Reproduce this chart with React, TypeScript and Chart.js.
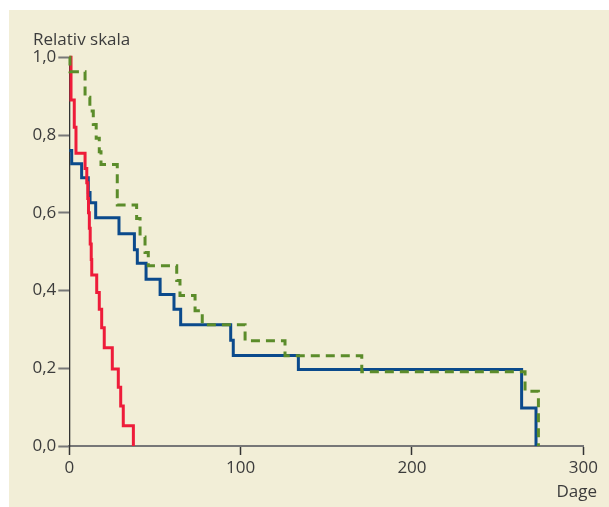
import React, { useEffect, useRef } from "react";
import { Chart, registerables } from "chart.js";

Chart.register(...registerables);

const yTitle = "Relativ skala";
const xTitle = "Dage";
const xTickValues = [0, 100, 200, 300];
const yTickValues = [0, 0.2, 0.4, 0.6, 0.8, 1.0];

const redDays = [0, 1, 2.9, 3.9, 9.2, 10.2, 10.8, 11.2, 11.7, 12.2, 12.8, 13.1, 16, 17.5, 18.9, 20.4, 25.1, 28.6, 30, 31.5, 37.4];
const redValues = [1.0, 0.89, 0.82, 0.753, 0.714, 0.677, 0.637, 0.6, 0.56, 0.52, 0.48, 0.44, 0.395, 0.352, 0.304, 0.253, 0.198, 0.151, 0.103, 0.052, 0];

const blueDays = [0, 1.4, 7.2, 11.1, 12.1, 15.4, 29, 38, 39.7, 44.8, 53, 61.1, 65, 94.2, 95.7, 133.7, 264, 272.4];
const blueValues = [0.76, 0.726, 0.69, 0.652, 0.626, 0.587, 0.546, 0.505, 0.47, 0.429, 0.39, 0.352, 0.312, 0.272, 0.233, 0.197, 0.098, 0];

const greenDays = [0, 0.4, 9.2, 12, 14, 15.7, 17.5, 18.5, 28, 39.3, 41.3, 44.2, 46.1, 62.7, 64.6, 73.4, 77.6, 102.6, 125.9, 170.7, 266, 273.8];
const greenValues = [1.0, 0.963, 0.897, 0.862, 0.827, 0.792, 0.757, 0.724, 0.62, 0.585, 0.538, 0.498, 0.464, 0.426, 0.387, 0.348, 0.312, 0.271, 0.232, 0.191, 0.141, 0];

const FONT = '"Open Sans", sans-serif';
const TEXT = "#3c3c3c";

function pts(xs: number[], ys: number[]) {
  return xs.map((x, i) => ({ x, y: ys[i] }));
}

const textPlugin = {
  id: "texts",
  afterDraw(chart: any) {
    const ctx = chart.ctx;
    ctx.save();
    ctx.fillStyle = TEXT;
    ctx.font = `17px ${FONT}`;
    ctx.textBaseline = "alphabetic";
    ctx.textAlign = "left";
    ctx.fillText(yTitle, 24, 35);
    ctx.textAlign = "right";
    ctx.fillText(xTitle, 588, 487);
    ctx.restore();
  },
};

export default function App() {
  const ref = useRef<HTMLCanvasElement | null>(null);
  useEffect(() => {
    if (!ref.current) return;
    const chart = new Chart(ref.current, {
      type: "line",
      data: {
        datasets: [
          {
            data: pts(greenDays, greenValues),
            borderColor: "#5b8c2a",
            borderWidth: 3,
            borderDash: [9, 6],
            stepped: "before",
            pointRadius: 0,
            fill: false,
            order: 0,
            clip: false,
          } as any,
          {
            data: pts(redDays, redValues),
            borderColor: "#ee1c3a",
            borderWidth: 3,
            stepped: "before",
            pointRadius: 0,
            fill: false,
            order: 1,
            clip: false,
          } as any,
          {
            data: pts(blueDays, blueValues),
            borderColor: "#0b4a8c",
            borderWidth: 3,
            stepped: "before",
            pointRadius: 0,
            fill: false,
            order: 2,
            clip: false,
          } as any,
        ],
      },
      options: {
        responsive: false,
        animation: false,
        devicePixelRatio: 1,
        layout: { padding: { left: 0, top: 47.3, right: 25.7, bottom: 21 } },
        plugins: { legend: { display: false }, tooltip: { enabled: false } },
        scales: {
          x: {
            type: "linear",
            min: 0,
            max: 300,
            afterBuildTicks: (s: any) => {
              s.ticks = xTickValues.map((v) => ({ value: v }));
            },
            afterFit: (s: any) => {
              s.height = 40;
            },
            border: { display: true, color: "#777", width: 2 },
            grid: {
              drawOnChartArea: false,
              drawTicks: true,
              tickLength: 9,
              tickColor: "#333",
              tickWidth: 1.5,
            },
            ticks: {
              color: TEXT,
              font: { family: FONT, size: 17 },
              padding: 3,
              maxRotation: 0,
              callback: (v: any) => String(v),
            },
          },
          y: {
            type: "linear",
            min: 0,
            max: 1,
            afterBuildTicks: (s: any) => {
              s.ticks = yTickValues.map((v) => ({ value: v }));
            },
            afterFit: (s: any) => {
              s.width = 60.3;
            },
            border: { display: true, color: "#333", width: 1.3 },
            grid: {
              drawOnChartArea: false,
              drawTicks: true,
              tickLength: 11,
              tickColor: "#777",
              tickWidth: 2,
            },
            ticks: {
              color: TEXT,
              font: { family: FONT, size: 17 },
              padding: 2,
              callback: (v: any) => Number(v).toFixed(1).replace(".", ","),
            },
          },
        },
      },
      plugins: [textPlugin],
    } as any);
    return () => chart.destroy();
  }, []);
  return (
    <div
      style={{
        position: "absolute",
        left: 9,
        top: 10,
        width: 600,
        height: 497,
        background: "#f2eed7",
      }}
    >
      <canvas ref={ref} width={600} height={497} style={{ display: "block" }} />
    </div>
  );
}
